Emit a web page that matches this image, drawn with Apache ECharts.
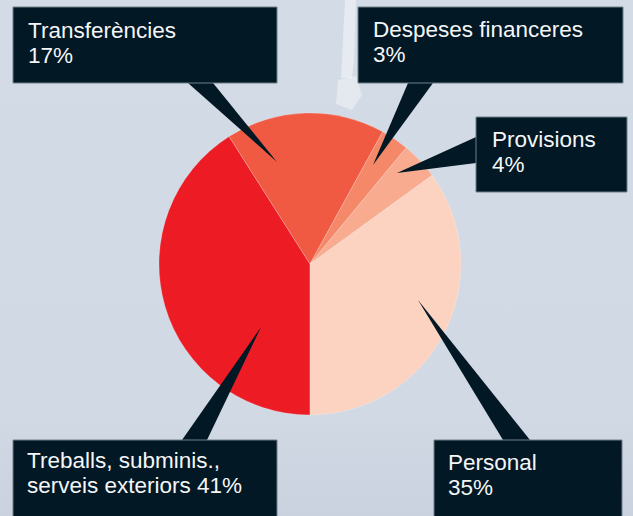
<!DOCTYPE html>
<html>
<head>
<meta charset="utf-8">
<script src="https://cdn.jsdelivr.net/npm/echarts@6/dist/echarts.min.js"></script>
<style>
html,body{margin:0;padding:0;background:#d1d9e5;}
#chart{width:633px;height:516px;}
</style>
</head>
<body>
<div id="chart"></div>
<script>
const categories = ['Treballs, subminis., serveis exteriors', 'Transferències', 'Despeses financeres', 'Provisions', 'Personal'];
const values = [41, 17, 3, 4, 35];
const colors = ['#ed1c24', '#f15a42', '#f48868', '#f9ab8f', '#fcd3c1'];
const labelTexts = [
  'Treballs, subminis.,\nserveis exteriors ' + values[0] + '%',
  categories[1] + '\n' + values[1] + '%',
  categories[2] + '\n' + values[2] + '%',
  categories[3] + '\n' + values[3] + '%',
  categories[4] + '\n' + values[4] + '%'
];

const BOX = '#021824';
const BORDER = '#6f808c';
const FONT = '22.5px "Liberation Sans", Arial, sans-serif';

function box(x, y, w, h, text, tx, ty) {
  return [
    { type: 'rect', z: 10, shape: { x: x, y: y, width: w, height: h },
      style: { fill: BOX, stroke: BORDER, lineWidth: 1 } },
    { type: 'text', z: 11, x: tx, y: ty,
      style: { text: text, font: FONT, fill: '#f4f6f8', lineHeight: 25, verticalAlign: 'top', align: 'left' } }
  ];
}
function tri(pts) {
  return { type: 'polygon', z: 9, shape: { points: pts }, style: { fill: BOX } };
}

const chart = echarts.init(document.getElementById('chart'), null, { renderer: 'svg' });
chart.setOption({
  backgroundColor: {
    type: 'linear', x: 0, y: 0, x2: 0, y2: 1,
    colorStops: [
      { offset: 0, color: '#d3dbe6' },
      { offset: 0.8, color: '#d1d9e5' },
      { offset: 1, color: '#c9d2de' }
    ]
  },
  animation: false,
  series: [{
    type: 'pie',
    center: [310, 264],
    radius: 151,
    startAngle: 270,
    clockwise: true,
    label: { show: false },
    labelLine: { show: false },
    itemStyle: { borderWidth: 0.6, borderColor: 'rgba(255,255,255,0.35)' },
    emphasis: { disabled: true },
    data: categories.map((c, i) => ({ name: c, value: values[i], itemStyle: { color: colors[i] } }))
  }],
  graphic: [
    { type: 'polygon', z: 1, shape: { points: [[345, 0], [356, 0], [354, 60], [352, 78], [341, 78], [343, 40]] },
      style: { fill: 'rgba(255,255,255,0.45)' } },
    { type: 'polygon', z: 1, shape: { points: [[338, 80], [356, 76], [362, 95], [352, 110], [336, 104]] },
      style: { fill: 'rgba(255,255,255,0.4)' } },
    tri([[188, 83], [213, 83], [277, 162]]),
    tri([[408, 83], [433, 83], [373, 165]]),
    tri([[476, 137], [476, 163], [397, 173]]),
    tri([[182, 440], [207, 440], [261, 327]]),
    tri([[503, 440], [530, 440], [418, 300]]),
    ...box(13, 7, 264, 76, labelTexts[1], 28, 18),
    ...box(358, 7, 265, 76, labelTexts[2], 373, 17),
    ...box(476, 117, 151, 75, labelTexts[3], 492, 127),
    ...box(13, 440, 264, 80, labelTexts[0], 27, 448),
    ...box(434, 440, 188, 80, labelTexts[4], 448, 450)
  ]
});
</script>
</body>
</html>
